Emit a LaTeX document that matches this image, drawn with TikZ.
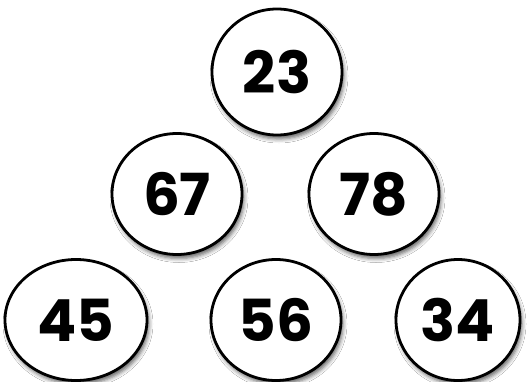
\documentclass[tikz,border=0pt]{standalone}
\usepackage{fontspec}
\setmainfont{Poppins}
\usetikzlibrary{shapes.geometric,shadows.blur}
\begin{document}
\begin{tikzpicture}[x=1pt,y=-1pt,
  ball/.style={ellipse, draw=black, line width=2.8pt, fill=white,
    inner sep=0pt, minimum width=#1, minimum height=121pt,
    font=\fontsize{58}{58}\selectfont\bfseries,
    blur shadow={shadow xshift=2pt, shadow yshift=-4pt, shadow blur radius=4pt, shadow opacity=60}},
  ball/.default=130pt]
\fill[white] (0,0) rectangle (529,382);
\useasboundingbox (0,0) rectangle (529,382);
\node[ball, minimum height=126pt] (n23) at (277,72) {23};
\node[ball] (n67) at (177,194) {67};
\node[ball] (n78) at (374,194) {78};
\node[ball=142pt] (n45) at (76,320) {45};
\node[ball] (n56) at (276,320) {56};
\node[ball=124pt] (n34) at (458,320) {34};
\end{tikzpicture}
\end{document}
